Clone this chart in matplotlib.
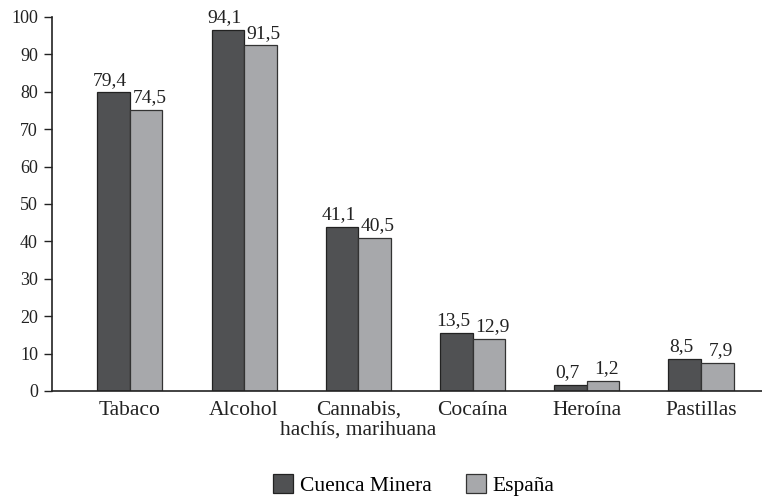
import matplotlib
matplotlib.use("Agg")
import matplotlib.pyplot as plt
import numpy as np

# Datos
categorias = ["Tabaco", "Alcohol", "Cannabis,\nhachís, marihuana", "Cocaína", "Heroína", "Pastillas"]
series = ["Cuenca Minera", "España"]
# alturas de las barras tal como aparecen dibujadas
cuenca = [79.8, 96.6, 43.8, 15.6, 1.6, 8.5]
espana = [75.1, 92.4, 40.9, 13.9, 2.7, 7.4]
# valores impresos sobre las barras
cuenca_txt = ["79,4", "94,1", "41,1", "13,5", "0,7", "8,5"]
espana_txt = ["74,5", "91,5", "40,5", "12,9", "1,2", "7,9"]
yticks = [0, 10, 20, 30, 40, 50, 60, 70, 80, 90, 100]

oscuro = "#505153"
claro = "#a7a8ab"

plt.rcParams['font.family'] = ['Liberation Serif', 'DejaVu Serif']

fig = plt.figure(figsize=(7.62, 4.98), dpi=100)
ax = fig.add_axes([0.068, 0.215, 0.932, 0.751])

x = np.arange(len(categorias))
w = 0.285
b1 = ax.bar(x - w / 2, cuenca, w, color=oscuro, edgecolor="#222222", linewidth=0.9, label=series[0])
b2 = ax.bar(x + w / 2, espana, w, color=claro, edgecolor="#333333", linewidth=0.9, label=series[1])

for xi, h, t in zip(x - w / 2, cuenca, cuenca_txt):
    ax.text(xi - 0.03, h + 1.0, t, ha="center", va="bottom", fontsize=14, color="#222222")
for xi, h, t in zip(x + w / 2, espana, espana_txt):
    ax.text(xi + 0.03, h + 1.0, t, ha="center", va="bottom", fontsize=14, color="#222222")

ax.set_xlim(-0.683, 5.534)
ax.set_ylim(0, 100)
ax.set_yticks(yticks)
ax.set_yticklabels([str(v) for v in yticks], fontsize=13, color="#222222")
ax.set_xticks(x)
ax.set_xticklabels(categorias, fontsize=15.5, color="#222222", linespacing=1.05)
ax.tick_params(axis="x", length=0, pad=7)
ax.tick_params(axis="y", length=6, width=1, direction="out", pad=4, color="#222222")

for s in ["top", "right"]:
    ax.spines[s].set_visible(False)
for s in ["left", "bottom"]:
    ax.spines[s].set_linewidth(1.2)
    ax.spines[s].set_color("#222222")

fig.legend(handles=[b1, b2], labels=series, loc="center", bbox_to_anchor=(0.543, 0.026),
           ncol=2, frameon=False, fontsize=15.5, handlelength=0.95, handleheight=0.95,
           handletextpad=0.3, columnspacing=1.6)

fig.savefig("out.png", dpi=100)
